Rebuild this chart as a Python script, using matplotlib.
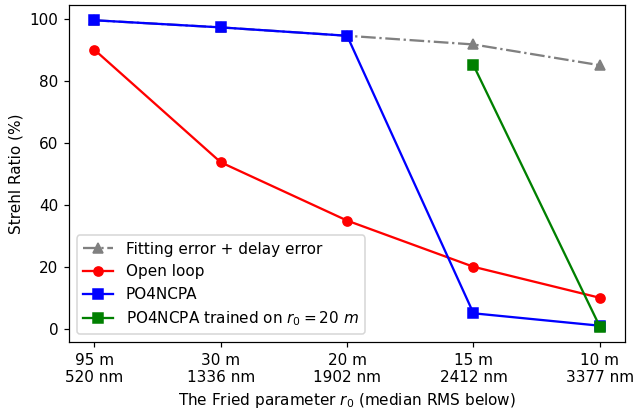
import matplotlib
matplotlib.use("Agg")
import matplotlib.pyplot as plt

r0_labels = ["95 m\n520 nm", "30 m\n1336 nm", "20 m\n1902 nm", "15 m\n2412 nm", "10 m\n3377 nm"]
x = [0, 1, 2, 3, 4]
fitting_delay = [99.5, 97.2, 94.5, 91.7, 85.0]
open_loop = [90.0, 53.7, 34.9, 20.0, 10.0]
po4ncpa = [99.5, 97.2, 94.5, 5.0, 1.0]
x_trained = [3, 4]
po4ncpa_trained = [85.0, 0.7]

DPI = 110
fig = plt.figure(figsize=(634 / DPI, 412 / DPI), dpi=DPI)
ax = fig.add_subplot(111)
ax.plot(x, fitting_delay, color="gray", linestyle="-.", marker="^", label="Fitting error + delay error")
ax.plot(x, open_loop, color="red", marker="o", label="Open loop")
ax.plot(x, po4ncpa, color="blue", marker="s", label="PO4NCPA")
ax.plot(x_trained, po4ncpa_trained, color="green", marker="s", label="PO4NCPA trained on $r_0 = 20$ $m$")
ax.set_xticks(x)
ax.set_xticklabels(r0_labels)
ax.set_yticks([0, 20, 40, 60, 80, 100])
ax.set_ylabel("Strehl Ratio (%)")
ax.set_xlabel("The Fried parameter $r_0$ (median RMS below)")
ax.legend(loc="lower left")
fig.subplots_adjust(left=0.109, right=0.986, top=0.988, bottom=0.170)
fig.savefig("out.png", dpi=DPI)
